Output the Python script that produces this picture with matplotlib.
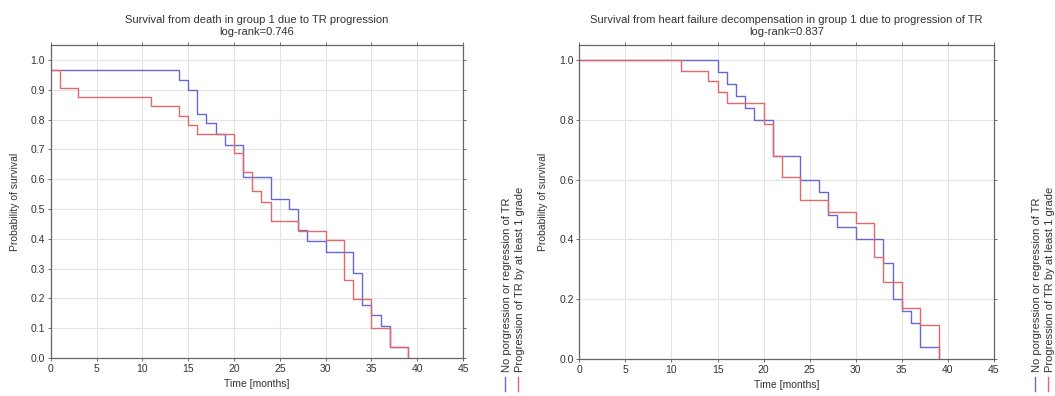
import matplotlib
matplotlib.use("Agg")
import matplotlib.pyplot as plt
from matplotlib.lines import Line2D

plt.rcParams['font.family'] = ['Liberation Sans', 'DejaVu Sans']

# ---- data ----
left_title = "Survival from death in group 1 due to TR progression\nlog-rank=0.746"
right_title = "Survival from heart failure decompensation in group 1 due to progression of TR\nlog-rank=0.837"
legend_labels = ["No porgression or regression of TR", "Progression of TR by at least 1 grade"]
x_label = "Time [months]"
y_label = "Probability of survival"

left_blue_t = [0, 14, 15, 16, 17, 18, 19, 21, 24, 26, 27, 28, 30, 33, 34, 35, 36, 37, 39]
left_blue_s = [0.967, 0.933, 0.9, 0.82, 0.787, 0.75, 0.713, 0.607, 0.535, 0.5, 0.428,
               0.393, 0.357, 0.286, 0.179, 0.143, 0.107, 0.036, 0.0]
left_red_t = [0, 1, 3, 11, 14, 15, 16, 20, 21, 22, 23, 24, 27, 30, 32, 33, 35, 37, 39]
left_red_s = [0.967, 0.906, 0.875, 0.844, 0.813, 0.781, 0.75, 0.688, 0.625, 0.559, 0.525,
              0.46, 0.427, 0.395, 0.263, 0.197, 0.099, 0.036, 0.0]

right_blue_t = [0, 15, 16, 17, 18, 19, 21, 24, 26, 27, 28, 30, 33, 34, 35, 36, 37, 39]
right_blue_s = [1.0, 0.96, 0.92, 0.88, 0.84, 0.80, 0.68, 0.60, 0.56, 0.48, 0.44, 0.40,
                0.32, 0.20, 0.16, 0.12, 0.04, 0.0]
right_red_t = [0, 11, 14, 15, 16, 20, 21, 22, 24, 27, 30, 32, 33, 35, 37, 39]
right_red_s = [1.0, 0.964, 0.929, 0.893, 0.857, 0.786, 0.679, 0.607, 0.531, 0.493, 0.455,
               0.341, 0.256, 0.171, 0.114, 0.0]

x_ticks = [0, 5, 10, 15, 20, 25, 30, 35, 40, 45]
left_y_ticks = [0.0, 0.1, 0.2, 0.3, 0.4, 0.5, 0.6, 0.7, 0.8, 0.9, 1.0]
right_y_ticks = [0.0, 0.2, 0.4, 0.6, 0.8, 1.0]

BLUE = "#6868d4"
RED = "#e06a6a"
TXT = "#333333"
W, H = 1055, 396

fig = plt.figure(figsize=(W / 100, H / 100), dpi=100)


def px_axes(x0, x1, ytop, ybot):
    return fig.add_axes([x0 / W, 1 - ybot / H, (x1 - x0) / W, (ybot - ytop) / H])


def style(ax, yticks, title):
    ax.set_xlim(0, 45)
    ax.set_ylim(0, 1.05)
    ax.set_xticks(x_ticks)
    ax.set_yticks(yticks)
    ax.set_yticklabels([f"{v:.1f}" for v in yticks])
    ax.grid(True, color="#e4e4e4", linewidth=0.8)
    ax.set_axisbelow(True)
    for s in ax.spines.values():
        s.set_color("#666666")
        s.set_linewidth(0.9)
    ax.tick_params(axis="both", labelsize=7.5, colors="#555555", length=2, width=0.6,
                   labelcolor=TXT, pad=2)
    ax.tick_params(axis="x", top=True, direction="out")
    ax.tick_params(axis="y", right=True)
    ax.set_xlabel(x_label, fontsize=7.5, color=TXT, labelpad=4)
    ax.set_ylabel(y_label, fontsize=7.5, color=TXT, labelpad=8)
    ax.set_title(title, fontsize=8, color=TXT, pad=7, linespacing=1.3)


axL = px_axes(50.7, 463, 45, 358)
axR = px_axes(579.3, 994, 45, 359)

axL.step(left_blue_t, left_blue_s, where="post", color=BLUE, lw=1.0)
axL.step(left_red_t, left_red_s, where="post", color=RED, lw=1.0)
axR.step(right_blue_t, right_blue_s, where="post", color=BLUE, lw=1.0)
axR.step(right_red_t, right_red_s, where="post", color=RED, lw=1.0)

style(axL, left_y_ticks, left_title)
style(axR, right_y_ticks, right_title)


def rot_legend(x_blue, x_red):
    for xp, col, lab in ((x_blue, BLUE, legend_labels[0]), (x_red, RED, legend_labels[1])):
        fig.add_artist(Line2D([xp / W, xp / W], [1 - 391 / H, 1 - 377 / H], color=col, lw=1.0,
                              transform=fig.transFigure))
        fig.text((xp + 2) / W, 1 - 372 / H, lab, rotation=90, ha="center", va="bottom",
                 fontsize=8, color=TXT)


rot_legend(505, 518)
rot_legend(1035, 1048)

fig.savefig("out.png", dpi=100)
